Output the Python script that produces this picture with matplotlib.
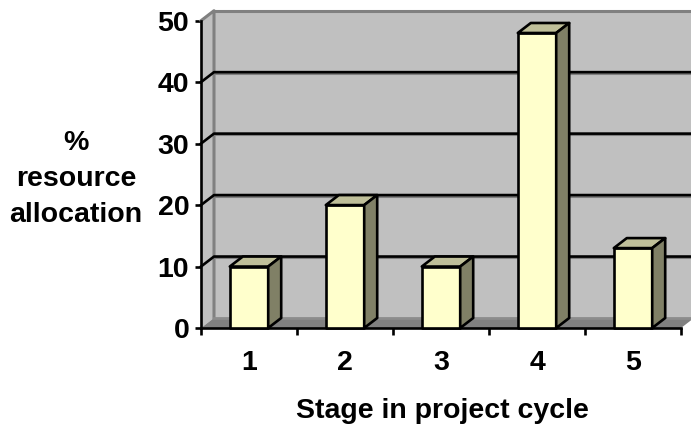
import matplotlib
matplotlib.use('Agg')
import matplotlib.pyplot as plt
import numpy as np

stages = [1, 2, 3, 4, 5]
alloc = [10, 20, 10, 48, 13]
y_ticks = [0, 10, 20, 30, 40, 50]

W, H = 691, 424
plt.rcParams['font.family'] = ['Liberation Sans', 'DejaVu Sans']
plt.rcParams['font.weight'] = 'bold'
plt.rcParams['font.size'] = 20.5

fig = plt.figure(figsize=(W/100, H/100), dpi=100)
# front plane of the fake 3d box, in pixels: x 201-681, y 20.7-328
ax = fig.add_axes([201/W, 1-328/H, 480/W, (328-20.7)/H])
ax.set_xlim(0.5, 5.5)
ax.set_ylim(0, 50)

# depth offset of the box and of the bars in data units
dx = 13/96
dy = 10/((328-20.7)/50)
x0, x1 = 0.5, 5.5
lw = 1.9

# walls and floor
ax.fill([x0+dx, x1+dx, x1+dx, x0+dx], [dy, dy, 50+dy, 50+dy], color='#c0c0c0', lw=0, clip_on=False, zorder=1)
ax.fill([x0, x0+dx, x0+dx, x0], [0, dy, 50+dy, 50], color='#c0c0c0', lw=0, clip_on=False, zorder=1)
ax.fill([x0, x1, x1+dx, x0+dx], [0, 0, dy, dy], color='#808080', lw=0, clip_on=False, zorder=1)
ax.plot([x0+dx, x1+dx], [50+dy, 50+dy], color='#808080', lw=2.2, clip_on=False, zorder=2)
ax.plot([x0, x0+dx, x0+dx], [50, 50+dy, dy], color='#808080', lw=2.2, clip_on=False, zorder=2)
ax.plot([x0+dx, x1+dx], [dy, dy], color='#8c8c8c', lw=2, clip_on=False, zorder=2)

# gridlines run round the corner
for v in y_ticks[1:-1]:
    ax.plot([x0+dx, x1+dx], [v+dy-0.25, v+dy-0.25], color='#808080', lw=1.5, clip_on=False, zorder=2)
    ax.plot([x0, x0+dx, x1+dx], [v, v+dy, v+dy], color='black', lw=lw, clip_on=False, zorder=3)

# bars
bw = 0.4
for s, v in zip(stages, alloc):
    l, r = s-bw/2, s+bw/2
    ax.fill([l, r, r, l], [0, 0, v, v], fc='#ffffcc', ec='black', lw=lw, joinstyle='round', clip_on=False, zorder=5)
    ax.fill([l, r, r+dx, l+dx], [v, v, v+dy, v+dy], fc='#bfbf99', ec='black', lw=lw, joinstyle='round', clip_on=False, zorder=5)
    ax.fill([r, r+dx, r+dx, r], [0, dy, v+dy, v], fc='#808066', ec='black', lw=lw, joinstyle='round', clip_on=False, zorder=5)

for side in ['top', 'right']:
    ax.spines[side].set_visible(False)
for side in ['left', 'bottom']:
    ax.spines[side].set_linewidth(lw)
    ax.spines[side].set_zorder(4)
ax.patch.set_visible(False)

ax.set_yticks(y_ticks)
ax.set_xticks(np.arange(0.5, 6, 1))
ax.set_xticklabels([])
ax.set_xticks(stages, minor=True)
ax.set_xticklabels(stages, minor=True)
ax.tick_params(axis='x', which='major', length=5, width=lw)
ax.tick_params(axis='x', which='minor', length=0, pad=15.5)
ax.tick_params(axis='y', length=4.5, width=lw, pad=4)

fig.text(76/W, 1-179/H, '%\nresource\nallocation', ha='center', va='center', linespacing=1.5)
fig.text(442/W, 1-411/H, 'Stage in project cycle', ha='center', va='center')

fig.savefig('out.png', dpi=100)
